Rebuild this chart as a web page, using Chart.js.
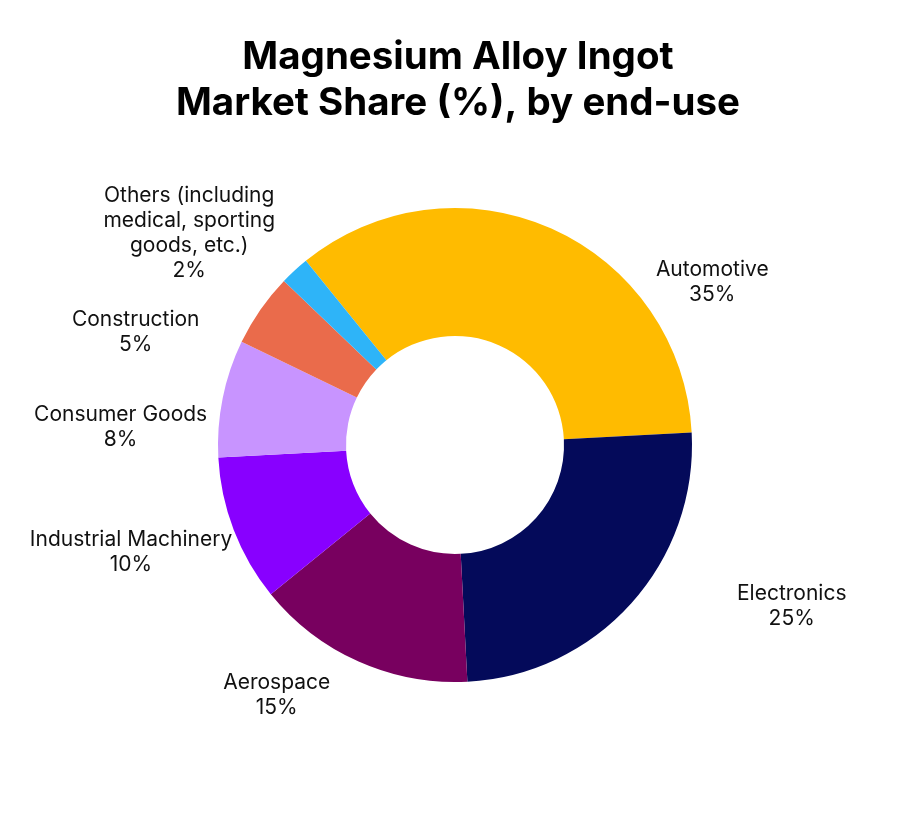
<!DOCTYPE html>
<html>
<head>
<meta charset="utf-8">
<script src="https://cdn.jsdelivr.net/npm/chart.js@4/dist/chart.umd.min.js"></script>
<style>
  html, body { margin: 0; padding: 0; background: #ffffff; }
  #shareChart { display: block; }
</style>
</head>
<body>
<canvas id="shareChart" width="906" height="815"></canvas>
<script>
// data
const titleLines = ['Magnesium Alloy Ingot', 'Market Share (%), by end-use'];
const categories = [
    'Automotive',
    'Electronics',
    'Aerospace',
    'Industrial Machinery',
    'Consumer Goods',
    'Construction',
    ['Others (including', 'medical, sporting', 'goods, etc.)']
];
const shares = [35, 25, 15, 10, 8, 5, 2];
const sliceColors = ['#FFBB00', '#040A5A', '#78005F', '#8800FF', '#C894FF', '#EA6B4B', '#2EB4F8'];

// label nudge from each slice's mid angle (deg) and distance in outer radii
const labelTurn = [33.5, -16.5, 11.5, 2.8, -8.2, -15.2, -8.8];
const labelReach = [1.287, 1.574, 1.295, 1.439, 1.413, 1.430, 1.435];

// two-line bold title above the ring
const ringTitle = {
    id: 'ringTitle',
    afterDraw(chart) {
        const ctx = chart.ctx;
        const cx = (chart.chartArea.left + chart.chartArea.right) / 2 + 3;
        ctx.save();
        ctx.font = 'bold 38.5px Inter, sans-serif';
        ctx.fillStyle = '#000000';
        ctx.textAlign = 'center';
        ctx.textBaseline = 'alphabetic';
        titleLines.forEach((t, i) => ctx.fillText(t, cx, 69 + i * 46));
        ctx.restore();
    }
};

const outsideLabels = {
    id: 'outsideLabels',
    afterDatasetsDraw(chart) {
        const ctx = chart.ctx;
        const meta = chart.getDatasetMeta(0);
        ctx.save();
        ctx.font = '21px Inter, sans-serif';
        ctx.fillStyle = '#111111';
        ctx.textAlign = 'center';
        ctx.textBaseline = 'alphabetic';
        meta.data.forEach((arc, i) => {
            const p = arc.getProps(['x', 'y', 'startAngle', 'endAngle', 'outerRadius'], true);
            const a = (p.startAngle + p.endAngle) / 2 + labelTurn[i] * Math.PI / 180;
            const r = p.outerRadius * labelReach[i];
            const cx = p.x + Math.cos(a) * r;
            const cy = p.y + Math.sin(a) * r;
            const lines = [].concat(chart.data.labels[i], shares[i] + '%');
            const lh = 25;
            const first = cy - (lines.length - 1) * lh / 2 + 7;
            lines.forEach((t, j) => ctx.fillText(t, cx, first + j * lh));
        });
        ctx.restore();
    }
};

new Chart(document.getElementById('shareChart'), {
    type: 'doughnut',
    data: {
        labels: categories,
        datasets: [{
            data: shares,
            backgroundColor: sliceColors,
            borderWidth: 0
        }]
    },
    options: {
        responsive: false,
        animation: false,
        rotation: -39,
        cutout: '46%',
        layout: { padding: { left: 218, right: 214, top: 208, bottom: 133 } },
        plugins: {
            legend: { display: false },
            tooltip: { enabled: false },
            title: { display: false }
        }
    },
    plugins: [outsideLabels, ringTitle]
});
</script>
</body>
</html>
